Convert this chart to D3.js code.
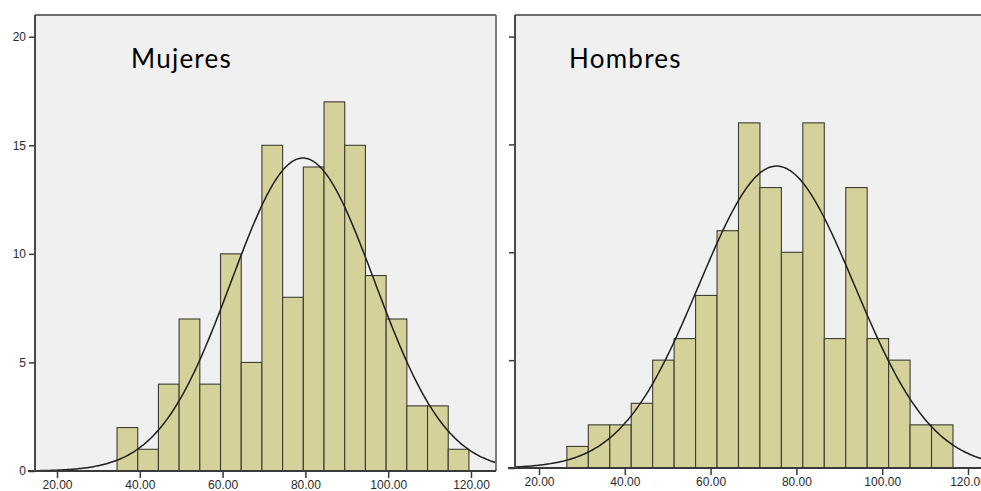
<!DOCTYPE html>
<html><head><meta charset="utf-8">
<script src="https://cdn.jsdelivr.net/npm/d3@7"></script>
<style>html,body{margin:0;padding:0;background:#fff;}svg{display:block;}</style>
</head><body>
<svg id="c" width="981" height="491"></svg>
<script>
// ---- data ----
const binWidth = 5;
const mujeresStart = 34.5;
const mujeresCounts = [2,1,4,7,4,10,5,15,8,14,17,15,9,7,3,3,1];
const mujeresMean = 79.4, mujeresSD = 17.3;
const hombresStart = 26.5;
const hombresCounts = [1,2,2,3,5,6,8,11,16,13,10,16,6,13,6,5,2,2];
const hombresMean = 75.4, hombresSD = 18.1;
const xTicks = [20,40,60,80,100,120];
const yTicks = [0,5,10,15,20];
const titles = ["Mujeres","Hombres"];

const svg = d3.select("#c");

function panel(cfg){
  const g = svg.append("g");
  const x = d3.scaleLinear().domain([20,120]).range(cfg.xr);
  const y = d3.scaleLinear().domain([0,21]).range([cfg.y0, 15]);
  // background
  g.append("rect").attr("x",cfg.left).attr("y",15).attr("width",cfg.right-cfg.left).attr("height",cfg.y0-15)
    .attr("fill","#f0f0f0");
  // bars
  const bins = cfg.counts.map((c,i)=>({x0:cfg.start+i*binWidth, x1:cfg.start+(i+1)*binWidth, c}));
  g.selectAll("rect.bar").data(bins).join("rect").attr("class","bar")
    .attr("x",d=>x(d.x0)).attr("width",d=>x(d.x1)-x(d.x0))
    .attr("y",d=>y(d.c)).attr("height",d=>y(0)-y(d.c))
    .attr("fill","#d5d19b").attr("stroke","#3c3c30").attr("stroke-width",1.1);
  // normal curve
  const n = d3.sum(cfg.counts);
  const vmin = x.invert(cfg.left), vmax = x.invert(cfg.right);
  const pts = d3.range(0,301).map(i=>vmin+(vmax-vmin)*i/300);
  const dens = v => n*binWidth/(cfg.sd*Math.sqrt(2*Math.PI))*Math.exp(-0.5*((v-cfg.mean)/cfg.sd)**2);
  g.append("path").datum(pts)
    .attr("d", d3.line().x(v=>x(v)).y(v=>y(dens(v))).curve(d3.curveBasis))
    .attr("fill","none").attr("stroke","#1e1e1e").attr("stroke-width",1.5);
  // frame
  const fr = g.append("g").attr("fill","none").attr("stroke","#6e6e6e").attr("stroke-width",1.8);
  fr.append("line").attr("x1",cfg.left).attr("x2",cfg.right).attr("y1",15).attr("y2",15);
  if(cfg.drawRight) fr.append("line").attr("x1",cfg.right).attr("x2",cfg.right).attr("y1",15).attr("y2",cfg.y0);
  // axes
  const xa = g.append("g").attr("transform",`translate(0,${cfg.y0})`)
    .call(d3.axisBottom(x).tickValues(xTicks).tickFormat(d3.format(".2f")).tickSize(7).tickSizeOuter(0));
  xa.select(".domain").remove();
  xa.append("line").attr("x1",cfg.left-7).attr("x2",cfg.right).attr("stroke","#3a3a3a").attr("stroke-width",2);
  xa.selectAll(".tick line").attr("stroke","#3a3a3a").attr("stroke-width",1.5);
  xa.selectAll(".tick text").attr("font-family","Liberation Sans, Arial, sans-serif").attr("font-size","12px")
    .attr("fill","#2a2a2a").attr("dy","0.8em").attr("y",8);
  const ya = g.append("g").attr("transform",`translate(${cfg.left},0)`)
    .call(d3.axisLeft(y).tickValues(yTicks).tickSize(6).tickSizeOuter(0).tickFormat(cfg.yLabels? d3.format("d") : ""));
  ya.select(".domain").remove();
  ya.append("line").attr("y1",15).attr("y2",cfg.y0).attr("stroke","#4a4a4a").attr("stroke-width",2);
  ya.selectAll(".tick line").attr("stroke","#3a3a3a").attr("stroke-width",1.5);
  ya.selectAll(".tick text").attr("font-family","Liberation Sans, Arial, sans-serif").attr("font-size","12px")
    .attr("fill","#2a2a2a").attr("x",-9);
  // title
  g.append("text").attr("x",cfg.tx).attr("y",68).text(cfg.title)
    .attr("font-family","Lato, Open Sans, sans-serif").attr("font-size","26px")
    .attr("letter-spacing","1.25px").attr("fill","#000");
}

panel({xr:[57,471], left:35, right:496, y0:471, start:mujeresStart, counts:mujeresCounts,
  mean:mujeresMean, sd:mujeresSD, drawRight:true, yLabels:true, title:titles[0], tx:131});
panel({xr:[539,968], left:515, right:981, y0:468, start:hombresStart, counts:hombresCounts,
  mean:hombresMean, sd:hombresSD, drawRight:false, yLabels:false, title:titles[1], tx:569});
</script>
</body></html>
